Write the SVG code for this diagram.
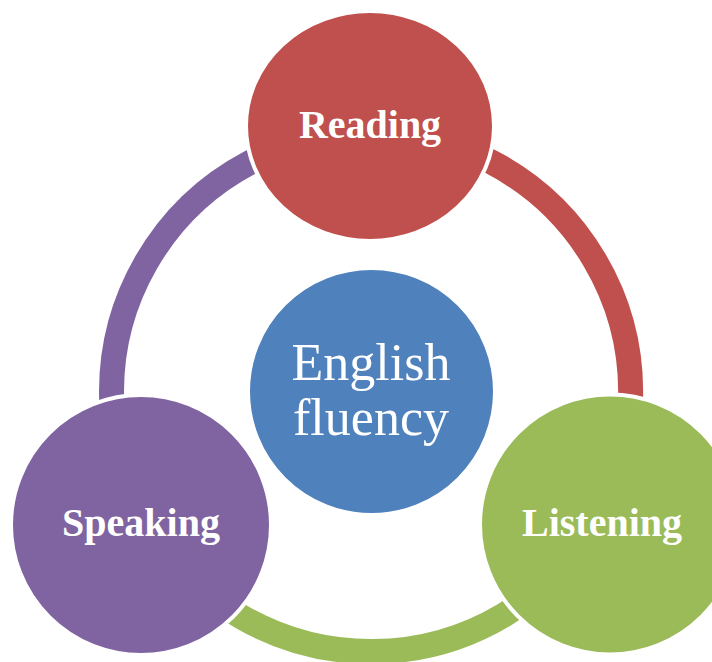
<svg xmlns="http://www.w3.org/2000/svg" width="712" height="662" viewBox="0 0 712 662">
<style>
.arc{fill:none;stroke-width:25}
.node{stroke:#fff;stroke-width:4}
.lbl{font-family:"Liberation Serif","Times New Roman",serif;font-weight:bold;font-size:40px;fill:#fff;text-anchor:middle}
.ctr{font-family:"Liberation Serif","Times New Roman",serif;font-size:52px;fill:#fff;text-anchor:middle}
</style>
<rect width="712" height="662" fill="#fff"/>
<g id="connectors">
<path class="arc" stroke="#C0504D" d="M371 132.5 A259.5 259.5 0 0 1 598 518"/>
<path class="arc" stroke="#9BBB59" d="M598 518 A259.5 259.5 0 0 1 146.3 521.75"/>
<path class="arc" stroke="#8064A2" d="M146.3 521.75 A259.5 259.5 0 0 1 371 132.5"/>
</g>
<g id="center">
<circle class="node" cx="371.5" cy="391.5" r="123.5" fill="#4F81BD"/>
<text class="ctr" x="371" y="380">English</text>
<text class="ctr" x="371" y="435">fluency</text>
</g>
<g id="reading">
<ellipse class="node" cx="370" cy="126" rx="124" ry="115" fill="#C0504D"/>
<text class="lbl" x="370" y="138">Reading</text>
</g>
<g id="listening">
<circle class="node" cx="610" cy="524.5" r="130" fill="#9BBB59"/>
<text class="lbl" x="602" y="536">Listening</text>
</g>
<g id="speaking">
<circle class="node" cx="141" cy="525" r="130" fill="#8064A2"/>
<text class="lbl" x="141" y="536">Speaking</text>
</g>
</svg>
